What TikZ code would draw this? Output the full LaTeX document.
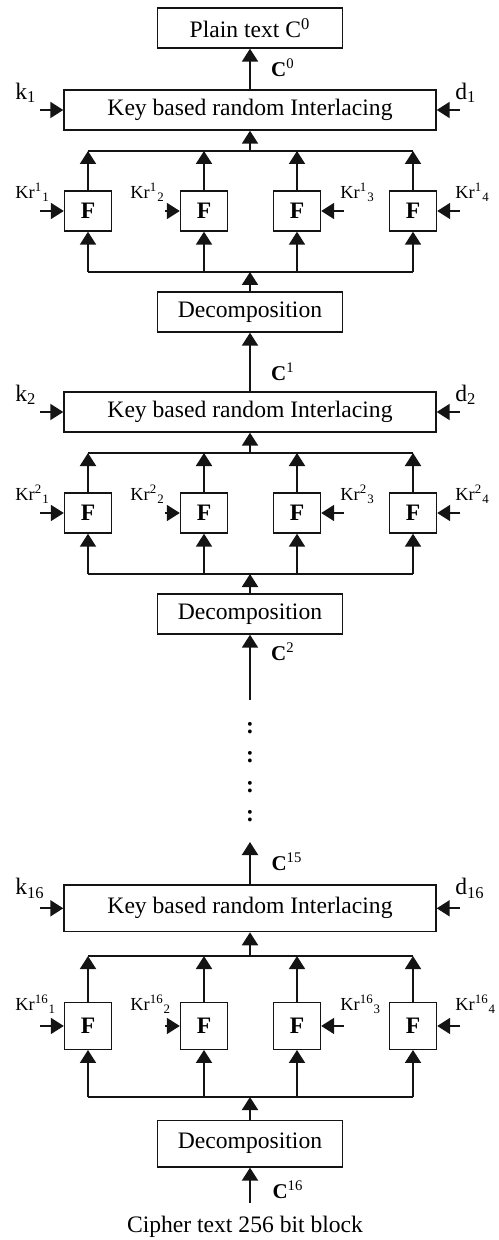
\documentclass[tikz,border=0pt]{standalone}
\usepackage{fontspec}
\setmainfont{Liberation Serif}
\usepackage{tikz}
\usepackage{xcolor}
\usetikzlibrary{arrows.meta,positioning,calc}
\definecolor{ink}{HTML}{141414}
\tikzset{
  blockbox/.style={draw=ink,line width=0.7pt,inner sep=0pt,
                   minimum width=92.5pt,minimum height=20pt,
                   align=center,font=\fontsize{11.8}{14}\selectfont},
  widebox/.style={blockbox,minimum width=186pt},
  fnbox/.style={blockbox,minimum width=23.5pt,font=\fontsize{11.8}{14}\selectfont\bfseries},
  keylabel/.style={inner sep=0pt,anchor=west,font=\fontsize{11.8}{14}\selectfont},
  krlabel/.style={inner sep=0pt,anchor=west,font=\fontsize{9.2}{11}\selectfont},
  clabel/.style={inner sep=0pt,font=\fontsize{10.5}{12}\selectfont},
  dotlabel/.style={inner sep=0pt,font=\fontsize{11.8}{14}\selectfont\bfseries},
  flowarr/.style={-{Triangle[length=6.5pt,width=8pt]},line width=1pt,color=ink},
  busline/.style={line width=0.8pt,color=ink}
}

\begin{document}
\begin{tikzpicture}[x=0.5pt,y=-0.5pt]
  \useasboundingbox (0,0) rectangle (498,1240);

  \node[blockbox] (plain) at (250,28) {Plain text C\textsuperscript{0}};

  % one round: interlacing, four F functions, decomposition
  \foreach \r/\y/\s in {1/90/1, 2/392/1, 16/885/1.165}{
    \pgfmathsetmacro\kiy{\y+20*\s}
    \pgfmathsetmacro\bty{\y+61*\s}
    \pgfmathsetmacro\fy{\y+121*\s}
    \pgfmathsetmacro\bby{\y+182*\s}
    \pgfmathsetmacro\dcy{\y+222*\s}
    \node[widebox,minimum height={20pt*\s}] (ki\r) at (250,\kiy) {Key based random Interlacing};
    \node[keylabel] (k\r) at (15,\y+3*\s) {k\textsubscript{\r}};
    \node[keylabel] (d\r) at (455,\y+3*\s) {d\textsubscript{\r}};
    \coordinate (ka\r) at (40,\kiy);
    \coordinate (da\r) at (460,\kiy);
    \draw[flowarr] (ka\r) -- (ki\r.west);
    \draw[flowarr] (da\r) -- (ki\r.east);
    \coordinate (bt\r) at (250,\bty);
    \coordinate (bb\r) at (250,\bby);
    \foreach \j/\fx/\kx/\ax in {1/88/15/40, 2/204/130/165, 3/297/340/344, 4/413/455/460}{
      \node[fnbox,minimum height={20pt*\s}] (f\r-\j) at (\fx,\fy) {F};
      \node[krlabel] (kr\r-\j) at (\kx,\y+102*\s) {Kr\textsuperscript{\r}\textsubscript{\j}};
      \coordinate (kra\r-\j) at (\ax,\fy);
      \draw[flowarr] (kra\r-\j) -- (f\r-\j);
      \draw[flowarr] (f\r-\j) -- (f\r-\j |- bt\r);
      \draw[flowarr] (f\r-\j |- bb\r) -- (f\r-\j);
    }
    \draw[busline] (f\r-1 |- bt\r) -- (f\r-4 |- bt\r);
    \draw[busline] (f\r-1 |- bb\r) -- (f\r-4 |- bb\r);
    \draw[flowarr] (bt\r) -- (ki\r);
    \node[blockbox,minimum height={20pt*\s}] (dc\r) at (250,\dcy) {Decomposition};
    \draw[flowarr] (dc\r) -- (bb\r);
  }

  \draw[flowarr] (ki1) -- (plain);
  \node[clabel] (c0) at (283,68) {\textbf{C}\textsuperscript{0}};
  \draw[flowarr] (ki2) -- (dc1);
  \node[clabel] (c1) at (283,372) {\textbf{C}\textsuperscript{1}};

  \coordinate (c2tail) at (250,700);
  \draw[flowarr] (c2tail) -- (dc2);
  \node[clabel] (c2) at (283,652) {\textbf{C}\textsuperscript{2}};

  \foreach \k/\dy in {1/728,2/757,3/787,4/816}
    \node[dotlabel] (dots\k) at (250,\dy) {:};

  \coordinate (c15head) at (250,842);
  \draw[flowarr] (ki16) -- (c15head);
  \node[clabel] (c15) at (287,862) {\textbf{C}\textsuperscript{15}};

  \coordinate (c16tail) at (250,1203);
  \draw[flowarr] (c16tail) -- (dc16);
  \node[clabel] (c16) at (288,1190) {\textbf{C}\textsuperscript{16}};
  \node[keylabel,anchor=center] (cipher) at (245,1227) {Cipher text 256 bit block};
\end{tikzpicture}
\end{document}
